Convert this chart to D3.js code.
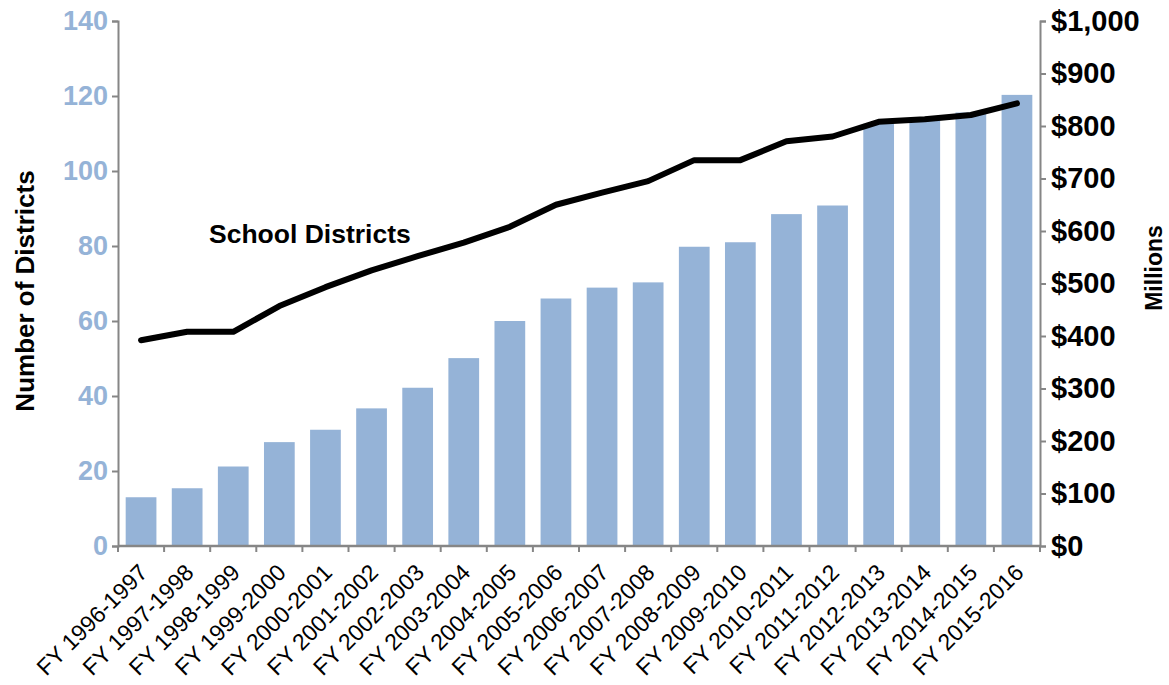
<!DOCTYPE html>
<html lang="en">
<head>
    <meta charset="UTF-8">
    <title>School Districts</title>
    <style>
        body {
            margin: 0;
            background: #fff;
        }
        svg text {
            font-family: "Liberation Sans", Arial, sans-serif;
        }
    </style>
    <script src="https://d3js.org/d3.v7.min.js"></script>
</head>
<body>
    <script>
        const years = [
            "FY 1996-1997", "FY 1997-1998", "FY 1998-1999", "FY 1999-2000", "FY 2000-2001",
            "FY 2001-2002", "FY 2002-2003", "FY 2003-2004", "FY 2004-2005", "FY 2005-2006",
            "FY 2006-2007", "FY 2007-2008", "FY 2008-2009", "FY 2009-2010", "FY 2010-2011",
            "FY 2011-2012", "FY 2012-2013", "FY 2013-2014", "FY 2014-2015", "FY 2015-2016"
        ];
        // bars, left axis
        const districts = [13, 15.4, 21.2, 27.7, 31, 36.7, 42.2, 50.1, 60, 66, 68.9, 70.3, 79.8, 81, 88.5, 90.8, 112.6, 113.5, 115.6, 120.3];
        // line, right axis
        const millions = [392, 408, 408, 457, 493, 525, 552, 578, 608, 650, 673, 695, 735, 735, 771, 780, 808, 813, 821, 843];
        const leftTicks = [0, 20, 40, 60, 80, 100, 120, 140];
        const rightTicks = [0, 100, 200, 300, 400, 500, 600, 700, 800, 900, 1000];

        const SVG_WIDTH = 1169;
        const SVG_HEIGHT = 685;
        const PLOT_LEFT = 118;
        const PLOT_RIGHT = 1040;
        const PLOT_TOP = 21;
        const PLOT_BOTTOM = 546;
        const BAR_COLOR = "#95b3d7";
        const AXIS_COLOR = "#868686";

        const svg = d3.select("body").append("svg")
            .attr("width", SVG_WIDTH)
            .attr("height", SVG_HEIGHT);

        const x = d3.scaleBand()
            .domain(years)
            .range([PLOT_LEFT, PLOT_RIGHT])
            .paddingInner(1 / 3)
            .paddingOuter(1 / 6);

        const yLeft = d3.scaleLinear().domain([0, 140]).range([PLOT_BOTTOM, PLOT_TOP]);
        const yRight = d3.scaleLinear().domain([0, 1000]).range([PLOT_BOTTOM, PLOT_TOP]);

        svg.selectAll("rect.bar")
            .data(districts)
            .enter()
            .append("rect")
            .attr("class", "bar")
            .attr("x", (d, i) => x(years[i]))
            .attr("y", d => yLeft(d))
            .attr("width", x.bandwidth())
            .attr("height", d => yLeft(0) - yLeft(d))
            .attr("fill", BAR_COLOR);

        // axes
        const leftAxis = svg.append("g")
            .attr("transform", `translate(${PLOT_LEFT},0)`)
            .call(d3.axisLeft(yLeft).tickValues(leftTicks).tickSize(6).tickPadding(4));
        leftAxis.selectAll("text")
            .attr("fill", BAR_COLOR)
            .attr("font-size", "27px")
            .attr("font-weight", "bold");

        const rightAxis = svg.append("g")
            .attr("transform", `translate(${PLOT_RIGHT},0)`)
            .call(d3.axisRight(yRight).tickValues(rightTicks).tickSize(6).tickPadding(5)
                .tickFormat(d => "$" + d3.format(",")(d)));
        rightAxis.selectAll("text")
            .attr("fill", "#000")
            .attr("font-size", "29px")
            .attr("font-weight", "bold");

        const bottomAxis = svg.append("g")
            .attr("transform", `translate(0,${PLOT_BOTTOM})`)
            .call(d3.axisBottom(x).tickSize(0).tickPadding(0));
        bottomAxis.select(".domain").remove();
        bottomAxis.selectAll("text")
            .attr("fill", "#000")
            .attr("font-size", "23px")
            .attr("text-anchor", "end")
            .attr("dy", null)
            .attr("y", null)
            .attr("transform", "translate(8,28) rotate(-45)");

        // category boundary ticks
        const step = x.step();
        const boundaries = d3.range(years.length + 1).map(i => x(years[0]) - step * x.paddingOuter() + i * step);
        svg.append("g")
            .selectAll("line")
            .data(boundaries)
            .enter()
            .append("line")
            .attr("x1", d => d)
            .attr("x2", d => d)
            .attr("y1", PLOT_BOTTOM)
            .attr("y2", PLOT_BOTTOM + 6)
            .attr("stroke", AXIS_COLOR)
            .attr("stroke-width", 2);

        svg.append("line")
            .attr("x1", PLOT_LEFT)
            .attr("x2", PLOT_RIGHT)
            .attr("y1", PLOT_BOTTOM)
            .attr("y2", PLOT_BOTTOM)
            .attr("stroke", AXIS_COLOR)
            .attr("stroke-width", 2.5);

        svg.selectAll(".domain, .tick line")
            .attr("stroke", AXIS_COLOR)
            .attr("stroke-width", 2);

        // line
        const line = d3.line()
            .x((d, i) => x(years[i]) + x.bandwidth() / 2)
            .y(d => yRight(d));

        svg.append("path")
            .datum(millions)
            .attr("d", line)
            .attr("fill", "none")
            .attr("stroke", "#000")
            .attr("stroke-width", 6)
            .attr("stroke-linejoin", "round")
            .attr("stroke-linecap", "round");

        svg.append("text")
            .attr("x", 209)
            .attr("y", 243)
            .attr("font-size", "26.5px")
            .attr("font-weight", "bold")
            .text("School Districts");

        svg.append("text")
            .attr("transform", "translate(34,291) rotate(-90)")
            .attr("text-anchor", "middle")
            .attr("font-size", "26px")
            .attr("font-weight", "bold")
            .text("Number of Districts");

        svg.append("text")
            .attr("transform", "translate(1162,268) rotate(-90)")
            .attr("text-anchor", "middle")
            .attr("font-size", "23px")
            .attr("font-weight", "bold")
            .text("Millions");
    </script>
</body>
</html>
